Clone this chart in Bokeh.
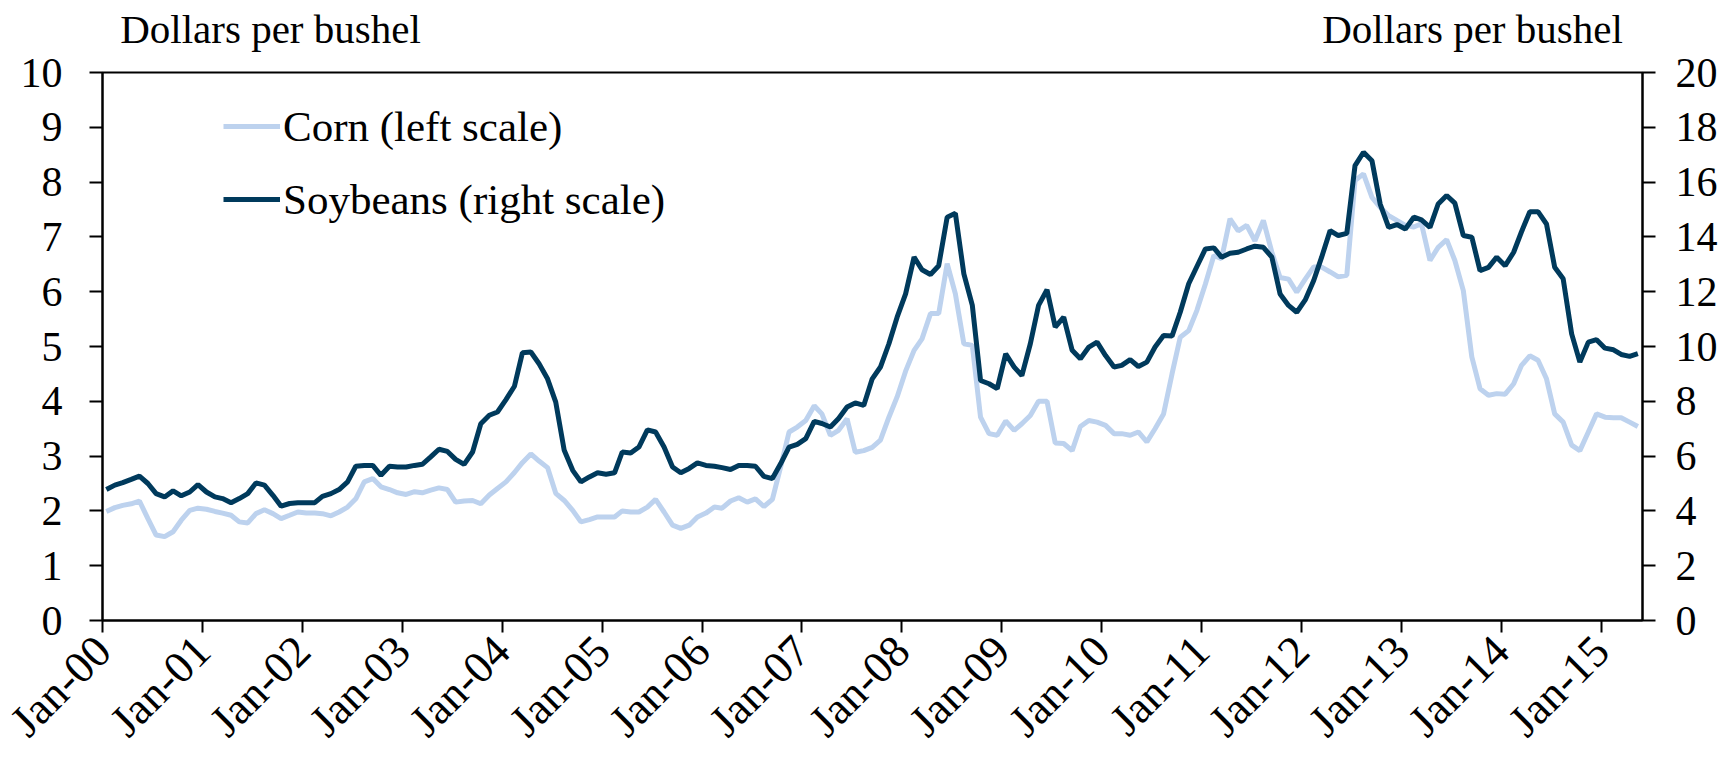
import math
import datetime as dt
import pandas as pd
from bokeh.plotting import figure
from bokeh.models import (Range1d, LinearAxis, FixedTicker, DatetimeTickFormatter,
                          Legend, LegendItem, ColumnDataSource)
from bokeh.embed import file_html
from bokeh.resources import INLINE

# ---------------- data (monthly, Jan 2000 - May 2015) ----------------
corn = [
    1.99, 2.06, 2.10, 2.13, 2.18, 1.86, 1.56, 1.53, 1.62, 1.83, 2.01, 2.05,   # 2000
    2.03, 1.99, 1.96, 1.92, 1.80, 1.78, 1.95, 2.02, 1.95, 1.86, 1.92, 1.98,   # 2001
    1.96, 1.96, 1.95, 1.91, 1.98, 2.07, 2.22, 2.53, 2.59, 2.44, 2.39, 2.33,   # 2002
    2.30, 2.35, 2.33, 2.38, 2.42, 2.39, 2.16, 2.18, 2.19, 2.13, 2.29, 2.41,   # 2003
    2.53, 2.70, 2.88, 3.04, 2.91, 2.79, 2.32, 2.19, 2.01, 1.80, 1.84, 1.89,   # 2004
    1.89, 1.89, 2.00, 1.98, 1.98, 2.07, 2.21, 1.98, 1.74, 1.68, 1.74, 1.89,   # 2005
    1.96, 2.07, 2.05, 2.18, 2.24, 2.16, 2.22, 2.08, 2.21, 2.80, 3.44, 3.53,   # 2006
    3.65, 3.92, 3.77, 3.38, 3.47, 3.68, 3.07, 3.10, 3.16, 3.29, 3.71, 4.08,   # 2007
    4.55, 4.93, 5.14, 5.60, 5.60, 6.51, 5.96, 5.05, 5.02, 3.71, 3.41, 3.38,   # 2008
    3.64, 3.47, 3.59, 3.74, 4.00, 4.00, 3.24, 3.23, 3.10, 3.54, 3.65, 3.62,   # 2009
    3.56, 3.41, 3.41, 3.38, 3.44, 3.26, 3.50, 3.77, 4.50, 5.17, 5.29, 5.66,   # 2010
    6.14, 6.66, 6.60, 7.33, 7.11, 7.21, 6.93, 7.30, 6.72, 6.26, 6.23, 5.99,   # 2011
    6.23, 6.45, 6.45, 6.36, 6.27, 6.30, 8.03, 8.15, 7.72, 7.54, 7.39, 7.30,   # 2012
    7.21, 7.18, 7.24, 6.57, 6.81, 6.95, 6.57, 6.02, 4.81, 4.23, 4.11, 4.14,   # 2013
    4.13, 4.32, 4.65, 4.83, 4.75, 4.41, 3.77, 3.62, 3.20, 3.10, 3.44, 3.77,   # 2014
    3.71, 3.70, 3.70, 3.62, 3.54,                                             # 2015
]
soybeans = [
    4.78, 4.94, 5.03, 5.15, 5.27, 5.00, 4.63, 4.51, 4.73, 4.55, 4.69, 4.96,
    4.69, 4.51, 4.45, 4.30, 4.45, 4.63, 5.02, 4.94, 4.57, 4.17, 4.27, 4.30,
    4.30, 4.30, 4.53, 4.63, 4.78, 5.06, 5.63, 5.66, 5.66, 5.30, 5.63, 5.60,
    5.60, 5.66, 5.70, 5.97, 6.25, 6.17, 5.88, 5.70, 6.15, 7.18, 7.49, 7.61,
    8.06, 8.55, 9.77, 9.80, 9.37, 8.82, 7.97, 6.21, 5.48, 5.06, 5.24, 5.39,
    5.34, 5.39, 6.15, 6.11, 6.33, 6.96, 6.88, 6.33, 5.60, 5.39, 5.55, 5.75,
    5.66, 5.63, 5.58, 5.51, 5.66, 5.66, 5.63, 5.26, 5.18, 5.72, 6.33, 6.43,
    6.64, 7.27, 7.19, 7.06, 7.37, 7.79, 7.94, 7.85, 8.82, 9.25, 10.10, 11.07,
    11.92, 13.26, 12.80, 12.63, 12.95, 14.72, 14.86, 12.65, 11.50, 8.76, 8.64, 8.46,
    9.73, 9.25, 8.94, 10.10, 11.50, 12.07, 10.71, 11.07, 9.86, 9.55, 9.98, 10.16,
    9.67, 9.25, 9.31, 9.52, 9.27, 9.43, 9.98, 10.40, 10.38, 11.25, 12.29, 12.92,
    13.56, 13.60, 13.26, 13.40, 13.44, 13.56, 13.66, 13.62, 13.26, 11.92, 11.50, 11.25,
    11.70, 12.41, 13.26, 14.23, 14.05, 14.13, 16.60, 17.09, 16.78, 15.20, 14.35, 14.45,
    14.29, 14.72, 14.62, 14.35, 15.20, 15.51, 15.23, 14.05, 13.99, 12.77, 12.89, 13.26,
    12.95, 13.44, 14.17, 14.92, 14.92, 14.47, 12.89, 12.47, 10.46, 9.43, 10.16, 10.25,
    9.94, 9.88, 9.71, 9.64, 9.74,
]
dates = pd.date_range("2000-01-01", periods=len(corn), freq="MS") + pd.Timedelta(days=14)
tick_years = list(range(2000, 2016))
left_ticks = list(range(0, 11))
right_ticks = list(range(0, 21, 2))
unit_label = "Dollars per bushel"
corn_label = "Corn (left scale)"
soy_label = "Soybeans (right scale)"

FONT = "Liberation Serif"
CORN_COLOR = "#BDD2EE"
SOY_COLOR = "#003A5C"

x_start = dt.datetime(2000, 1, 1)
x_end = dt.datetime(2015, 6, 1)

src = ColumnDataSource(dict(date=dates, corn=corn, soy=soybeans))

FRAME_W, FRAME_H = 1540, 548
p = figure(width=1729, height=769, x_axis_type="datetime",
           x_range=Range1d(x_start, x_end), y_range=Range1d(0, 10),
           output_backend="svg", toolbar_location=None,
           min_border_left=102, min_border_right=87, min_border_top=72, min_border_bottom=149)
p.extra_y_ranges = {"soy": Range1d(0, 20)}
# helper range in frame pixels, used only to place the two unit captions above the frame
p.extra_x_ranges = {"caption": Range1d(0, FRAME_W)}
p.xgrid.visible = False
p.ygrid.visible = False
p.outline_line_color = "black"
p.outline_line_width = 2
p.background_fill_color = "white"
p.border_fill_color = "white"

xaxis = p.below[0]
yaxis = p.left[0]

r_corn = p.line("date", "corn", source=src, line_color=CORN_COLOR, line_width=5)
r_soy = p.line("date", "soy", source=src, line_color=SOY_COLOR, line_width=5, y_range_name="soy")

right_axis = LinearAxis(y_range_name="soy", ticker=FixedTicker(ticks=right_ticks))
p.add_layout(right_axis, "right")

# captions "Dollars per bushel" above the frame (left and right), as an unlined top axis
cap_left_center = 168
cap_right_center = 1370
top_axis = LinearAxis(x_range_name="caption",
                      ticker=FixedTicker(ticks=[cap_left_center, cap_right_center]),
                      major_label_overrides={cap_left_center: unit_label,
                                             cap_right_center: unit_label})
top_axis.axis_line_color = None
top_axis.major_tick_line_color = None
top_axis.minor_tick_line_color = None
top_axis.major_tick_out = 0
top_axis.major_tick_in = 0
top_axis.major_label_standoff = 21
top_axis.major_label_text_font = FONT
top_axis.major_label_text_font_size = "41px"
top_axis.major_label_text_color = "black"
p.add_layout(top_axis, "above")

yaxis.ticker = FixedTicker(ticks=left_ticks)
xt = [pd.Timestamp(f"{y}-01-01").timestamp() * 1000 for y in tick_years]
xaxis.ticker = FixedTicker(ticks=xt)
fmt = "%b-%y"
xaxis.formatter = DatetimeTickFormatter(
    microseconds=fmt, milliseconds=fmt, seconds=fmt, minsec=fmt, minutes=fmt,
    hourmin=fmt, hours=fmt, days=fmt, months=fmt, years=fmt, strip_leading_zeros=False)
xaxis.major_label_orientation = math.pi / 4

for ax in [xaxis, yaxis, right_axis]:
    ax.axis_line_color = "black"
    ax.axis_line_width = 2
    ax.major_tick_line_color = "black"
    ax.major_tick_line_width = 2
    ax.major_tick_in = 0
    ax.minor_tick_line_color = None
    ax.major_label_text_font = FONT
    ax.major_label_text_font_size = "42px"
    ax.major_label_text_color = "black"

xaxis.major_label_text_font_size = "45px"
xaxis.major_tick_out = 12
xaxis.major_label_standoff = 11
yaxis.major_tick_out = 13
yaxis.major_label_standoff = 27
right_axis.major_tick_out = 13
right_axis.major_label_standoff = 20

legend = Legend(items=[LegendItem(label=corn_label, renderers=[r_corn]),
                       LegendItem(label=soy_label, renderers=[r_soy])],
                location=(121, 395), padding=0, margin=0,
                border_line_color=None, background_fill_alpha=0,
                label_text_font=FONT, label_text_font_size="43px",
                label_text_color="black",
                glyph_width=57, glyph_height=52, label_height=52,
                spacing=21, label_standoff=3)
p.add_layout(legend)

open("out.html", "w").write(file_html(p, INLINE))
